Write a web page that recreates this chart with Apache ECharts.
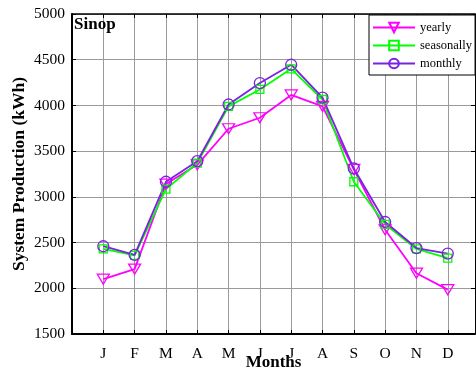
<!DOCTYPE html>
<html><head><meta charset="utf-8">
<script src="https://cdn.jsdelivr.net/npm/echarts@6/dist/echarts.min.js"></script>
<style>html,body{margin:0;padding:0;background:#fff}#c{width:476px;height:371px}</style>
</head><body><div id="c"></div>
<script>
const months = ['J','F','M','A','M','J','J','A','S','O','N','D'];
const yearly = [2100, 2210, 3140, 3350, 3745, 3865, 4115, 3990, 3300, 2640, 2165, 1985];
const seasonally = [2430, 2360, 3085, 3370, 3990, 4175, 4400, 4065, 3165, 2700, 2430, 2330];
const monthly = [2460, 2365, 3165, 3390, 4010, 4245, 4445, 4085, 3310, 2725, 2440, 2380];
const yTicks = [1500, 2000, 2500, 3000, 3500, 4000, 4500, 5000];

const font = 'Liberation Serif';
const toXY = arr => arr.map((v, i) => [i + 1, v]);

const chart = echarts.init(document.getElementById('c'));
chart.setOption({
  animation: false,
  backgroundColor: '#fff',
  grid: {left: 72, top: 14, right: 1, bottom: 37, containLabel: false, outerBoundsMode: 'none'},
  title: {text: 'Sinop', left: 69, top: 11, textStyle: {fontFamily: font, fontWeight: 'bold', fontSize: 17, color: '#000'}},
  legend: {
    orient: 'vertical', left: 369, top: 15, itemWidth: 42, itemHeight: 12, itemGap: 5,
    padding: [6, 3, 5, 3], borderColor: '#000', borderWidth: 1, backgroundColor: '#fff', borderRadius: 0,
    textStyle: {fontFamily: font, fontSize: 12.5, color: '#000'},
    data: ['yearly', 'seasonally', 'monthly']
  },
  xAxis: [{
    type: 'value', min: 0, max: 12.87, interval: 1,
    name: 'Months', nameLocation: 'middle', nameGap: 20, nameMoveOverlap: false,
    nameTextStyle: {fontFamily: font, fontWeight: 'bold', fontSize: 17, color: '#000'},
    axisLine: {show: true, onZero: false, lineStyle: {color: '#000', width: 2}},
    axisTick: {show: true, inside: true, length: 4, lineStyle: {color: '#000'}},
    axisLabel: {fontFamily: font, fontSize: 15.5, color: '#000', margin: 12,
      formatter: v => (Number.isInteger(v) && v >= 1 && v <= 12) ? months[v - 1] : ''},
    splitLine: {show: true, lineStyle: {color: '#9a9a9a', width: 1}}
  }, {
    type: 'value', position: 'top', min: 0, max: 12.87, interval: 1,
    axisLine: {show: true, onZero: false, lineStyle: {color: '#000', width: 1.5}},
    axisTick: {show: true, inside: true, length: 4, lineStyle: {color: '#000'}},
    axisLabel: {show: false}, splitLine: {show: false}
  }],
  yAxis: [{
    type: 'value', min: 1500, max: 5000, interval: 500,
    name: 'System Production (kWh)', nameLocation: 'middle', nameGap: 44, nameMoveOverlap: false,
    nameTextStyle: {fontFamily: font, fontWeight: 'bold', fontSize: 17.5, color: '#000'},
    axisLine: {show: true, onZero: false, lineStyle: {color: '#000', width: 2}},
    axisTick: {show: true, inside: true, length: 4, lineStyle: {color: '#000'}},
    axisLabel: {fontFamily: font, fontSize: 15.5, color: '#000', margin: 7,
      formatter: v => yTicks.includes(v) ? String(v) : ''},
    splitLine: {show: true, lineStyle: {color: '#9a9a9a', width: 1}}
  }, {
    type: 'value', position: 'right', min: 1500, max: 5000, interval: 500,
    axisLine: {show: true, onZero: false, lineStyle: {color: '#000', width: 1}},
    axisTick: {show: true, inside: true, length: 4, lineStyle: {color: '#000'}},
    axisLabel: {show: false}, splitLine: {show: false}
  }],
  series: [{
    name: 'yearly', type: 'line', data: toXY(yearly),
    symbol: 'triangle', symbolRotate: 180, symbolSize: [12, 10],
    lineStyle: {color: '#ff00ff', width: 1.8},
    itemStyle: {color: 'rgba(0,0,0,0)', borderColor: '#ff00ff', borderWidth: 1.3}
  }, {
    name: 'seasonally', type: 'line', data: toXY(seasonally),
    symbol: 'rect', symbolSize: 8,
    lineStyle: {color: '#00ff00', width: 1.8},
    itemStyle: {color: 'rgba(0,0,0,0)', borderColor: '#00ff00', borderWidth: 1.3}
  }, {
    name: 'monthly', type: 'line', data: toXY(monthly),
    symbol: 'circle', symbolSize: 11,
    lineStyle: {color: '#7b22e0', width: 1.8},
    itemStyle: {color: 'rgba(0,0,0,0)', borderColor: '#7b22e0', borderWidth: 1.3}
  }]
});
</script></body></html>
